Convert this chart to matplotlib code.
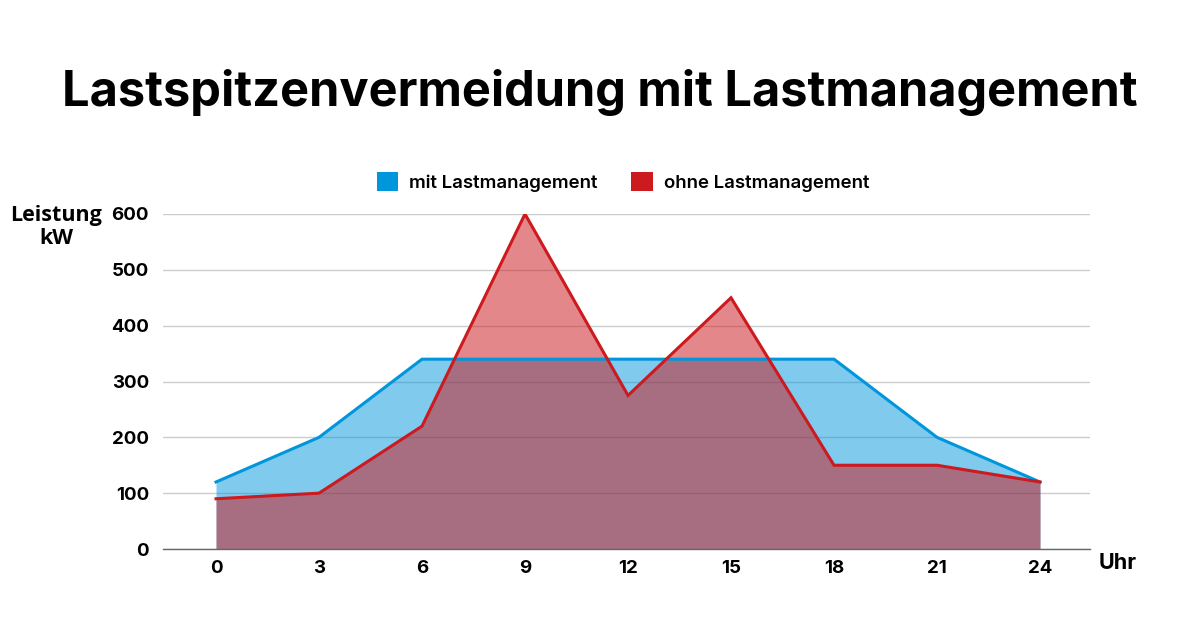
import matplotlib
matplotlib.use("Agg")
import matplotlib.pyplot as plt
from matplotlib.patches import Patch

# Data
hours = [0, 3, 6, 9, 12, 15, 18, 21, 24]
mit_lm = [120, 200, 340, 340, 340, 340, 340, 200, 120]
ohne_lm = [90, 100, 220, 600, 275, 450, 150, 150, 120]
y_ticks = [0, 100, 200, 300, 400, 500, 600]

blue = "#0096dc"
red = "#cc1a1f"

plt.rcParams['font.family'] = ['Inter', 'DejaVu Sans']

fig = plt.figure(figsize=(12, 6.28), dpi=100)
ax = fig.add_axes([163/1200, 1 - 549/628, 927/1200, 335/628])

# fills first, lines on top
ax.fill_between(hours, mit_lm, 0, color=blue, alpha=0.5, linewidth=0, zorder=2)
ax.fill_between(hours, ohne_lm, 0, color=red, alpha=0.52, linewidth=0, zorder=3)
ax.plot(hours, mit_lm, color=blue, lw=2.2, zorder=4, solid_joinstyle='miter')
ax.plot(hours, ohne_lm, color=red, lw=2.2, zorder=5, solid_joinstyle='miter')

ax.set_xlim(-1.544, 25.456)
ax.set_ylim(0, 600)
ax.set_xticks(hours)
ax.set_yticks(y_ticks)
ax.tick_params(length=0, labelsize=13.5)
ax.tick_params(axis='y', pad=10)
ax.tick_params(axis='x', pad=8)
for lbl in ax.get_xticklabels() + ax.get_yticklabels():
    lbl.set_fontweight('bold')

ax.grid(axis='y', color='#cccccc', lw=1, zorder=0)
ax.set_axisbelow(True)
for s in ['top', 'right', 'left']:
    ax.spines[s].set_visible(False)
ax.spines['bottom'].set_color('#666666')
ax.spines['bottom'].set_linewidth(1)
ax.spines['bottom'].set_zorder(6)

fig.text(0.5, 1 - 92/628, "Lastspitzenvermeidung mit Lastmanagement",
         ha='center', va='center', fontsize=35.1, fontweight='bold')

fig.text(56/1200, 1 - 227/628, "Leistung\nkW", ha='center', va='center',
         fontsize=15.5, fontweight='bold', family=['Open Sans', 'DejaVu Sans'],
         linespacing=1.15)
fig.text(1099/1200, 1 - 563/628, "Uhr", ha='left', va='center',
         fontsize=15.5, fontweight='bold')

handles = [Patch(facecolor=blue, edgecolor='none', label='mit Lastmanagement'),
           Patch(facecolor=red, edgecolor='none', label='ohne Lastmanagement')]
leg = fig.legend(handles=handles, loc='center', bbox_to_anchor=(623/1200, 1 - 182/628),
                 ncol=2, frameon=False, handlelength=1.15,
                 handleheight=1.15, handletextpad=0.6, columnspacing=1.8,
                 prop={'weight': 'semibold', 'size': 13.4})

fig.savefig("out.png", dpi=100, facecolor='white')
